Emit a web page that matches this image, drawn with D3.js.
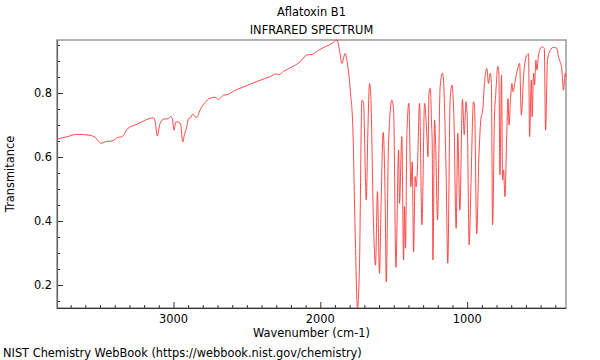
<!DOCTYPE html>
<html><head><meta charset="utf-8">
<script src="https://cdn.jsdelivr.net/npm/d3@7"></script>
<style>body{margin:0;background:#fff}svg{display:block}text{font-family:"DejaVu Sans",sans-serif;fill:#000}</style>
</head><body>
<svg id="c" width="600" height="360"></svg>
<script>
const title = "Aflatoxin B1";
const subtitle = "INFRARED SPECTRUM";
const xLabel = "Wavenumber (cm-1)";
const yLabel = "Transmitance";
const footer = "NIST Chemistry WebBook (https://webbook.nist.gov/chemistry)";
const xTickValues = [3000, 2000, 1000];
const yTickValues = [0.2, 0.4, 0.6, 0.8];
const wavenumber = [3793,3720,3659,3568,3534,3493,3454,3420,3375,3352,3314,3250,3159,3137,3125,3110,3091,3064,3035,3019,3008,2996,2984,2962,2950,2937,2925,2909,2898,2885,2869,2853,2841,2819,2785,2751,2716,2694,2660,2626,2592,2546,2478,2410,2340,2300,2280,2250,2200,2137,2092,2057,2012,1967,1921,1887,1869,1853,1831,1819,1796,1778,1763,1747,1733,1717,1706,1687,1676,1665,1656,1638,1624,1611,1597,1585,1572,1558,1551,1536,1513,1501,1485,1467,1461,1445,1433,1427,1420,1410,1397,1383,1374,1365,1354,1347,1340,1324,1308,1290,1274,1267,1260,1251,1242,1238,1233,1222,1215,1202,1184,1168,1160,1143,1132,1116,1104,1090,1075,1064,1050,1032,1020,1008,1000,986,975,957,950,935,920,907,893,884,866,855,843,835,827,814,805,791,784,777,766,759,752,743,729,722,715,705,695,688,672,656,643,631,616,599,582,575,563,557,548,541,532,525,514,491,475,466,453,434,412,389,378,368,355,344,332,327];
const transmittance = [0.656,0.664,0.671,0.668,0.662,0.643,0.649,0.650,0.662,0.663,0.688,0.702,0.721,0.723,0.712,0.666,0.705,0.719,0.720,0.727,0.720,0.684,0.710,0.709,0.700,0.647,0.670,0.695,0.720,0.722,0.734,0.726,0.724,0.747,0.770,0.784,0.787,0.780,0.793,0.796,0.806,0.815,0.828,0.840,0.852,0.860,0.858,0.868,0.880,0.898,0.919,0.921,0.934,0.945,0.955,0.966,0.934,0.893,0.924,0.903,0.809,0.684,0.372,0.128,0.268,0.778,0.769,0.466,0.684,0.830,0.789,0.394,0.262,0.492,0.236,0.476,0.677,0.450,0.210,0.632,0.778,0.747,0.255,0.622,0.455,0.664,0.278,0.445,0.315,0.679,0.768,0.507,0.585,0.304,0.539,0.507,0.550,0.768,0.388,0.768,0.664,0.601,0.799,0.815,0.700,0.643,0.278,0.716,0.650,0.403,0.820,0.862,0.830,0.539,0.268,0.778,0.825,0.720,0.377,0.674,0.434,0.780,0.670,0.773,0.730,0.325,0.500,0.773,0.760,0.360,0.600,0.716,0.752,0.820,0.877,0.830,0.862,0.830,0.388,0.726,0.800,0.884,0.860,0.544,0.856,0.528,0.560,0.476,0.695,0.783,0.700,0.780,0.830,0.804,0.841,0.877,0.893,0.731,0.851,0.913,0.923,0.664,0.841,0.726,0.862,0.825,0.903,0.872,0.919,0.945,0.940,0.684,0.903,0.934,0.943,0.940,0.913,0.900,0.872,0.809,0.862,0.850];

const data = wavenumber.map((w, i) => ({w, t: transmittance[i]}));
const m = {l: 57, r: 566, t: 40, b: 308};
const fs = 11.4;
const svg = d3.select("#c");
const xExt = d3.extent(wavenumber);
const x = d3.scaleLinear().domain([xExt[1], xExt[0]]).range([m.l, m.r]);
const y = d3.scaleLinear().domain(d3.extent(transmittance)).range([m.b, m.t]);

// frame
svg.append("rect").attr("x", m.l).attr("y", m.t).attr("width", m.r - m.l).attr("height", m.b - m.t)
  .attr("fill", "none").attr("stroke", "#999").attr("stroke-width", 1.5);

// x axis
const xMinor = d3.range(400, 3800, 100).filter(v => v >= xExt[0] && v <= xExt[1] && v % 1000 !== 0);
const gx = svg.append("g");
gx.selectAll("line.mn").data(xMinor).join("line")
  .attr("x1", d => x(d) + 0.5).attr("x2", d => x(d) + 0.5).attr("y1", m.b).attr("y2", m.b - 3)
  .attr("stroke", "#333");
gx.selectAll("line.mj").data(xTickValues).join("line")
  .attr("x1", d => x(d) + 0.5).attr("x2", d => x(d) + 0.5).attr("y1", m.b).attr("y2", m.b - 6)
  .attr("stroke", "#333");
gx.selectAll("text").data(xTickValues).join("text")
  .attr("x", d => x(d)).attr("y", 323).attr("text-anchor", "middle").attr("font-size", fs)
  .text(d => d);
svg.append("line").attr("x1", m.l).attr("x2", m.r).attr("y1", m.b + 0.5).attr("y2", m.b + 0.5)
  .attr("stroke", "#333").attr("stroke-width", 1.2);

// y axis
const yMinor = d3.range(0.15, 0.97, 0.05).map(v => +v.toFixed(2)).filter(v => v >= y.domain()[0] && v <= y.domain()[1] && !yTickValues.includes(v));
const gy = svg.append("g");
gy.selectAll("line.mn").data(yMinor).join("line")
  .attr("x1", m.l).attr("x2", m.l + 3).attr("y1", d => Math.round(y(d)) + 0.5).attr("y2", d => Math.round(y(d)) + 0.5)
  .attr("stroke", "#333");
gy.selectAll("line.mj").data(yTickValues).join("line")
  .attr("x1", m.l).attr("x2", m.l + 6).attr("y1", d => Math.round(y(d)) + 0.5).attr("y2", d => Math.round(y(d)) + 0.5)
  .attr("stroke", "#333");
gy.selectAll("text").data(yTickValues).join("text")
  .attr("x", 52).attr("y", d => y(d) + 4).attr("text-anchor", "end").attr("font-size", fs)
  .text(d => d.toFixed(1));
svg.append("line").attr("x1", m.l + 0.5).attr("x2", m.l + 0.5).attr("y1", m.t).attr("y2", m.b)
  .attr("stroke", "#666").attr("stroke-width", 1.2);

// spectrum
const line = d3.line().x(d => x(d.w)).y(d => y(d.t)).curve(d3.curveMonotoneX);
svg.append("path").datum(data).attr("d", line).attr("fill", "none")
  .attr("stroke", "#ff3535").attr("stroke-width", 0.9);

// texts
const cx = (m.l + m.r) / 2;
svg.append("text").attr("x", cx).attr("y", 16).attr("text-anchor", "middle").attr("font-size", fs).text(title);
svg.append("text").attr("x", cx).attr("y", 34).attr("text-anchor", "middle").attr("font-size", fs).text(subtitle);
svg.append("text").attr("x", cx).attr("y", 337).attr("text-anchor", "middle").attr("font-size", fs).text(xLabel);
svg.append("text").attr("transform", `translate(14,${(m.t + m.b) / 2}) rotate(-90)`).attr("text-anchor", "middle").attr("font-size", fs).text(yLabel);
svg.append("text").attr("x", 3).attr("y", 357).attr("font-size", fs).text(footer);
</script>
</body></html>
